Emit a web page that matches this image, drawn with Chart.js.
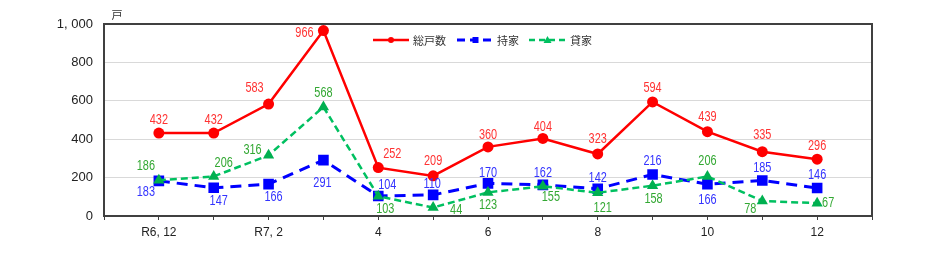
<!DOCTYPE html>
<html><head><meta charset="utf-8">
<script src="https://cdn.jsdelivr.net/npm/chart.js@4"></script>
<style>html,body{margin:0;padding:0;background:#fff}#wrap{width:932px;height:264px}</style>
</head><body><div id="wrap"><canvas id="c" width="932" height="264"></canvas></div>
<script>
const categories = ['R6, 12','R7, 1','R7, 2','3','4','5','6','7','8','9','10','11','12'];
const tickLabels = ['R6, 12','','R7, 2','','4','','6','','8','','10','','12'];
const seriesNames = ['総戸数','持家','貸家'];
const total = [432,432,583,966,252,209,360,404,323,594,439,335,296];
const owned = [183,147,166,291,104,110,170,162,142,216,166,185,146];
const rented = [186,206,316,568,103,44,123,155,121,158,206,78,67];
const yTicks = [0,200,400,600,800,1000];
const yTickText = ['0','200','400','600','800','1, 000'];

// label offsets (layout only)
const offTotal = [[0,-13],[0,-13],[-14,-16],[-19,3],[14,-13],[0,-15],[0,-12],[0,-11],[0,-15],[0,-14],[0,-15],[0,-17],[0,-13]];
const offOwned = [[-13,11],[5,13],[5,13],[-1,23],[9,-11],[-1,-11],[0,-10],[0,-12],[0,-11],[0,-13],[0,16],[0,-12],[0,-13]];
const offRented = [[-13,-14],[10,-13],[-16,-5],[0,-14],[7,13],[23,3],[0,13],[8,11],[5,15],[1,13],[0,-15],[-12,8],[11,0]];

const pad = a => [null, ...a, null];
const labels = ['', ...tickLabels, ''];
const NUMFONT = '"Liberation Sans",Arial,sans-serif';
const JPFONT = '"Noto Sans CJK JP",sans-serif';

const RED='#ff0000', BLUE='#0000ff', GREEN='#00c060';
const labelColors = ['#ff3333','#3333ff','#33a833'];
const offsets = [offTotal, offOwned, offRented];

const deco = {
  id:'deco',
  afterDatasetsDraw(chart){
    const ctx = chart.ctx, a = chart.chartArea;
    ctx.save();
    ctx.strokeStyle='#404040'; ctx.lineWidth=2;
    ctx.strokeRect(a.left, a.top, a.right-a.left, a.bottom-a.top);
    // data labels (horizontally condensed)
    ctx.font = '14px '+NUMFONT;
    ctx.textAlign='center'; ctx.textBaseline='middle';
    chart.data.datasets.forEach((ds,di)=>{
      const meta = chart.getDatasetMeta(di);
      ds.data.forEach((v,i)=>{
        if(v===null) return;
        const p = meta.data[i]; const o = offsets[di][i-1];
        ctx.save();
        ctx.translate(p.x+o[0], p.y+o[1]);
        ctx.scale(0.78,1);
        ctx.fillStyle = labelColors[di];
        ctx.fillText(String(v), 0, 0);
        ctx.restore();
      });
    });
    // unit
    ctx.fillStyle='#333'; ctx.font='11px '+JPFONT; ctx.textAlign='center';
    ctx.fillText('戸', 117, 15);
    // legend
    const ly = 40;
    const items = [
      {x0:373,x1:409,color:RED,dash:[],w:2.5,mk:'circle',tx:413,text:seriesNames[0]},
      {x0:457,x1:494,color:BLUE,dash:[8,5],w:3,mk:'rect',tx:497,text:seriesNames[1]},
      {x0:529,x1:566,color:GREEN,dash:[6,4],w:2.5,mk:'tri',tx:570,text:seriesNames[2]}
    ];
    items.forEach(it=>{
      ctx.strokeStyle=it.color; ctx.lineWidth=it.w; ctx.setLineDash(it.dash);
      ctx.beginPath(); ctx.moveTo(it.x0,ly); ctx.lineTo(it.x1,ly); ctx.stroke();
      ctx.setLineDash([]);
      const cx=(it.x0+it.x1)/2;
      ctx.fillStyle=it.color;
      ctx.beginPath();
      if(it.mk==='circle'){ctx.arc(cx,ly,3,0,Math.PI*2);}
      else if(it.mk==='rect'){ctx.rect(cx-3,ly-3,6,6);}
      else {ctx.moveTo(cx,ly-4);ctx.lineTo(cx+4,ly+3);ctx.lineTo(cx-4,ly+3);ctx.closePath();}
      ctx.fill();
      ctx.fillStyle='#333'; ctx.font='11px '+JPFONT; ctx.textAlign='left'; ctx.textBaseline='middle';
      ctx.fillText(it.text, it.tx, ly+1);
    });
    ctx.restore();
  }
};

new Chart(document.getElementById('c'), {
  type:'line',
  data:{
    labels: labels,
    datasets:[
      {label:seriesNames[0], data:pad(total), borderColor:RED, backgroundColor:RED, borderWidth:2.5,
       pointStyle:'circle', pointRadius:5.5, pointBorderWidth:0, order:0},
      {label:seriesNames[1], data:pad(owned), borderColor:BLUE, backgroundColor:BLUE, borderWidth:3, borderDash:[11,7],
       pointStyle:'rect', pointRadius:7.5, pointBorderWidth:0, order:2},
      {label:seriesNames[2], data:pad(rented), borderColor:GREEN, backgroundColor:'#00b050', borderWidth:2.5, borderDash:[7,4],
       pointStyle:'triangle', pointRadius:6.5, pointBorderWidth:0, order:1}
    ]
  },
  options:{
    responsive:false, animation:false,
    layout:{padding:{top:24,right:60,left:0,bottom:0}},
    plugins:{legend:{display:false},tooltip:{enabled:false}},
    scales:{
      x:{type:'category', offset:false,
         grid:{drawOnChartArea:false, drawTicks:true, tickLength:4, color:'#404040', lineWidth:1},
         border:{display:false},
         ticks:{autoSkip:false, maxRotation:0, minRotation:0, padding:5, color:'#222', font:{size:12, family:NUMFONT}},
         afterFit(s){s.height=48;}
      },
      y:{min:0,max:1000,
         afterBuildTicks(s){s.ticks = yTicks.map(v=>({value:v}));},
         grid:{color:'#d9d9d9', drawTicks:false, lineWidth:1},
         border:{display:false},
         ticks:{padding:11, color:'#222', font:{size:13, family:NUMFONT},
           callback:(v)=>{const k=yTicks.indexOf(v); return k>=0?yTickText[k]:'';}},
         afterFit(s){s.width=104;}
      }
    }
  },
  plugins:[deco]
});
</script></body></html>
